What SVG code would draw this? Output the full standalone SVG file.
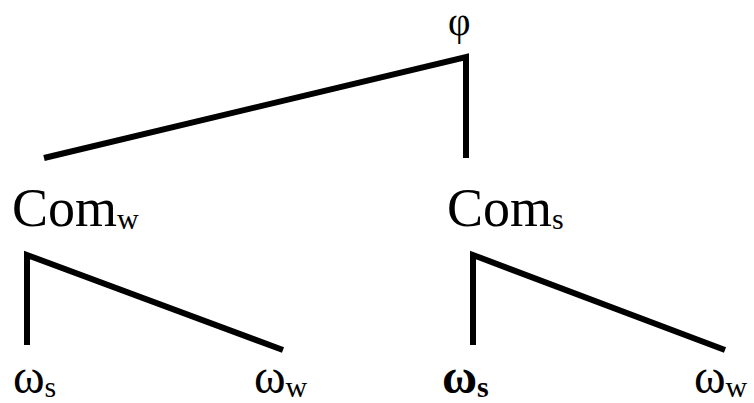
<svg xmlns="http://www.w3.org/2000/svg" width="754" height="403" viewBox="0 0 754 403">
<style>
.big{font-size:54px}
.om{font-size:48px}
.sub{font-size:30px}
.b{font-weight:bold}
.ln{stroke:#000;stroke-width:6;fill:none;stroke-linecap:butt;stroke-linejoin:miter}
</style>
<rect width="754" height="403" fill="#fff"/>
<g id="connectors">
<polyline class="ln" points="44,158 466,57 466,158"/>
<polyline class="ln" points="27,345 27,255 283,350"/>
<polyline class="ln" points="473,345 473,255 725,350"/>
</g>
<g font-family="Liberation Serif">
<g id="phi"><text x="448" y="35" font-size="39">φ</text></g>
<g id="comw"><text class="big" x="12" y="226">Com<tspan class="sub" dy="3">w</tspan></text></g>
<g id="coms"><text class="big" x="447" y="226">Com<tspan class="sub" dy="3">s</tspan></text></g>
<g id="ws1"><text class="om" x="13" y="393">ω<tspan class="sub" dy="4">s</tspan></text></g>
<g id="ww1"><text class="om" x="254" y="393">ω<tspan class="sub" dy="4">w</tspan></text></g>
<g id="ws2"><text class="om b" x="442" y="393">ω<tspan class="sub" dy="4">s</tspan></text></g>
<g id="ww2"><text class="om" x="694" y="393">ω<tspan class="sub" dy="4">w</tspan></text></g>
</g>
</svg>
